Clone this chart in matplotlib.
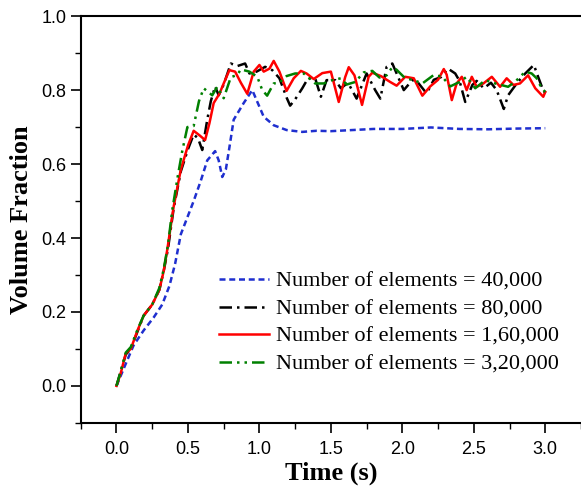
import matplotlib
matplotlib.use("Agg")
from matplotlib import pyplot as plt
from matplotlib.ticker import MultipleLocator

# volume fraction vs time for four mesh sizes
t_40k = [0, 0.065, 0.12, 0.19, 0.26, 0.32, 0.37, 0.41, 0.45, 0.50, 0.54, 0.59, 0.635, 0.69,
         0.715, 0.74, 0.765, 0.79, 0.82, 0.89, 0.95, 1.0, 1.03, 1.1, 1.19, 1.3, 1.4, 1.5,
         1.6, 1.8, 2.0, 2.2, 2.4, 2.6, 2.8, 3.0]
vf_40k = [0, 0.06, 0.11, 0.15, 0.185, 0.22, 0.27, 0.33, 0.41, 0.46, 0.50, 0.555, 0.61, 0.635,
          0.61, 0.565, 0.585, 0.645, 0.72, 0.765, 0.80, 0.755, 0.728, 0.705, 0.692, 0.687,
          0.69, 0.689, 0.691, 0.695, 0.695, 0.699, 0.695, 0.694, 0.696, 0.697]

t_80k = [0, 0.03, 0.065, 0.10, 0.15, 0.19, 0.25, 0.30, 0.33, 0.36, 0.40, 0.45, 0.50, 0.54,
         0.57, 0.60, 0.635, 0.66, 0.69, 0.715, 0.75, 0.80, 0.845, 0.90, 0.93, 0.98, 1.04,
         1.09, 1.14, 1.19, 1.215, 1.25, 1.30, 1.34, 1.39, 1.43, 1.47, 1.53, 1.57, 1.62,
         1.68, 1.75, 1.81, 1.846, 1.89, 1.93, 1.96, 2.01, 2.07, 2.10, 2.17, 2.22, 2.27,
         2.32, 2.37, 2.40, 2.44, 2.49, 2.52, 2.57, 2.62, 2.66, 2.71, 2.74, 2.81, 2.86,
         2.92, 2.95, 2.98, 3.0]
vf_80k = [0, 0.04, 0.085, 0.10, 0.15, 0.19, 0.22, 0.26, 0.31, 0.37, 0.48, 0.58, 0.64, 0.68,
          0.67, 0.638, 0.72, 0.77, 0.81, 0.786, 0.815, 0.872, 0.865, 0.872, 0.845, 0.85,
          0.863, 0.854, 0.832, 0.78, 0.758, 0.775, 0.805, 0.832, 0.832, 0.782, 0.827,
          0.827, 0.805, 0.82, 0.777, 0.845, 0.80, 0.777, 0.863, 0.872, 0.845, 0.80, 0.827,
          0.825, 0.791, 0.828, 0.835, 0.858, 0.845, 0.825, 0.768, 0.814, 0.825, 0.805,
          0.82, 0.80, 0.749, 0.786, 0.823, 0.845, 0.868, 0.836, 0.805, 0.791]

t_160k = [0, 0.03, 0.065, 0.10, 0.147, 0.19, 0.22, 0.25, 0.30, 0.33, 0.356, 0.40, 0.45, 0.50,
          0.54, 0.58, 0.62, 0.65, 0.68, 0.72, 0.75, 0.79, 0.83, 0.87, 0.915, 0.96, 1.0,
          1.03, 1.07, 1.10, 1.14, 1.19, 1.24, 1.29, 1.33, 1.38, 1.44, 1.50, 1.555, 1.60,
          1.625, 1.665, 1.718, 1.764, 1.79, 1.85, 1.915, 1.96, 2.02, 2.08, 2.14, 2.195,
          2.25, 2.29, 2.31, 2.346, 2.38, 2.416, 2.45, 2.486, 2.52, 2.567, 2.626, 2.684,
          2.73, 2.777, 2.823, 2.88, 2.93, 2.986, 3.0]
vf_160k = [0, 0.035, 0.088, 0.10, 0.15, 0.19, 0.205, 0.22, 0.26, 0.31, 0.37, 0.485, 0.585,
           0.65, 0.69, 0.678, 0.665, 0.71, 0.765, 0.79, 0.818, 0.854, 0.85, 0.82, 0.79,
           0.85, 0.868, 0.85, 0.858, 0.879, 0.85, 0.798, 0.832, 0.852, 0.845, 0.83, 0.846,
           0.85, 0.768, 0.835, 0.862, 0.84, 0.76, 0.836, 0.847, 0.838, 0.822, 0.812, 0.836,
           0.832, 0.785, 0.81, 0.828, 0.857, 0.842, 0.773, 0.818, 0.836, 0.80, 0.836, 0.809,
           0.818, 0.836, 0.809, 0.832, 0.814, 0.818, 0.84, 0.805, 0.782, 0.795]

t_320k = [0, 0.03, 0.065, 0.10, 0.15, 0.19, 0.25, 0.30, 0.33, 0.36, 0.39, 0.43, 0.46, 0.496,
          0.54, 0.577, 0.61, 0.67, 0.705, 0.75, 0.80, 0.845, 0.87, 0.93, 0.985, 1.02, 1.054,
          1.10, 1.14, 1.19, 1.25, 1.31, 1.39, 1.45, 1.51, 1.57, 1.61, 1.67, 1.73, 1.79,
          1.84, 1.89, 1.93, 1.96, 2.02, 2.08, 2.14, 2.22, 2.28, 2.335, 2.40, 2.45, 2.51,
          2.58, 2.65, 2.74, 2.79, 2.86, 2.905, 2.94, 2.975, 3.0]
vf_320k = [0, 0.04, 0.09, 0.105, 0.155, 0.19, 0.22, 0.265, 0.315, 0.38, 0.475, 0.57, 0.635,
           0.70, 0.703, 0.77, 0.805, 0.786, 0.809, 0.778, 0.835, 0.841, 0.856, 0.85, 0.836,
           0.80, 0.785, 0.818, 0.82, 0.838, 0.845, 0.845, 0.818, 0.818, 0.827, 0.832, 0.815,
           0.822, 0.848, 0.852, 0.834, 0.84, 0.862, 0.855, 0.832, 0.827, 0.818, 0.841,
           0.836, 0.81, 0.822, 0.836, 0.805, 0.827, 0.818, 0.809, 0.823, 0.85, 0.845, 0.832,
           0.805, 0.795]

labels = ["Number of elements = 40,000", "Number of elements = 80,000",
          "Number of elements = 1,60,000", "Number of elements = 3,20,000"]

fig = plt.figure(figsize=(5.81, 4.90), dpi=100)
ax = fig.add_axes([0.139, 0.137, 0.861, 0.830])

lw = 1.8
ax.plot(t_40k, vf_40k, color='#1f2fcf', lw=lw, dashes=(2.4, 1.5), label=labels[0])
ax.plot(t_80k, vf_80k, color='black', lw=lw, dashes=(5, 2, 1, 2), label=labels[1])
ax.plot(t_160k, vf_160k, color='#ff0000', lw=lw, label=labels[2])
ax.plot(t_320k, vf_320k, color='#008000', lw=lw, dashes=(5, 2, 1, 2, 1, 2), label=labels[3])

ax.set_xlim(-0.25, 3.25)
ax.set_ylim(-0.1, 1.0)
ax.xaxis.set_minor_locator(MultipleLocator(0.25))
ax.yaxis.set_minor_locator(MultipleLocator(0.1))
ax.set_xticks([0.0, 0.5, 1.0, 1.5, 2.0, 2.5, 3.0])
ax.set_yticks([0.0, 0.2, 0.4, 0.6, 0.8, 1.0])

ax.spines['right'].set_visible(False)
for s in ['left', 'bottom', 'top']:
    ax.spines[s].set_linewidth(1.5)
ax.tick_params(which='major', direction='out', length=7, width=1.2, labelsize=13)
ax.tick_params(which='minor', direction='out', length=4, width=1.0)
ax.tick_params(axis='x', pad=6)
for lab in ax.get_xticklabels() + ax.get_yticklabels():
    lab.set_fontfamily('Liberation Sans')

ax.set_xlabel('Time (s)', fontfamily='Liberation Serif', fontweight='bold', fontsize=19, labelpad=2.5)
ax.set_ylabel('Volume Fraction', fontfamily='Liberation Serif', fontweight='bold', fontsize=19, labelpad=6)

leg = ax.legend(loc='lower left', bbox_to_anchor=(0.255, 0.092), frameon=False,
                prop={'family': 'Liberation Serif', 'size': 16},
                handlelength=2.25, handletextpad=0.3, labelspacing=0.31, borderpad=0)

fig.savefig('out.png', dpi=100)
